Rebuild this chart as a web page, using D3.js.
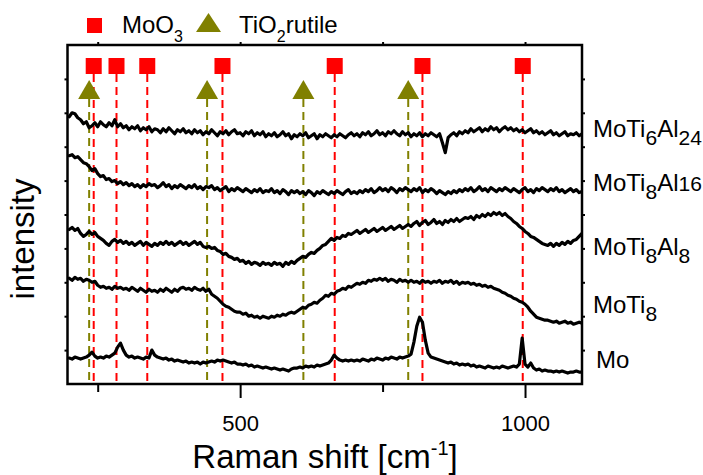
<!DOCTYPE html>
<html><head><meta charset="utf-8">
<script src="https://cdn.jsdelivr.net/npm/d3@7"></script>
<style>
body{margin:0;background:#fff}
svg{display:block}
text{font-family:"Liberation Sans",Arial,Helvetica,sans-serif;fill:#000}
</style>
</head><body>
<svg id="chart" width="703" height="475"></svg>
<script>
// ---------------- DATA ----------------
// Raman shift sampling grid (cm^-1), 200 .. 1100 in steps of 5
const shift = d3.range(200, 1101, 5);

// Offset intensities (arbitrary units), one value per shift sample
const moTi6Al24 = [
268,272,271,267,265,261,263,257,259,262,
258,263,260,258,262,259,265,258,261,257,
259,255,258,256,259,254,257,255,258,253,
256,255,252,256,253,257,254,251,255,253,
256,252,254,251,255,252,254,250,253,251,
255,252,249,253,251,254,250,253,255,251,
252,249,253,251,254,249,252,250,253,248,
251,249,252,248,250,253,249,251,246,250,
248,251,249,252,247,249,251,246,250,248,
251,249,247,250,248,251,249,247,250,252,
249,251,248,252,250,253,249,251,254,250,
252,249,253,251,254,251,249,253,250,252,
248,251,249,252,248,251,249,252,250,248,
251,242,232,247,250,252,249,253,251,254,
252,256,253,255,257,253,256,254,258,255,
257,253,256,258,255,257,254,256,253,255,
252,254,256,252,254,251,253,250,252,254,
250,252,249,251,253,249,251,250,252,249,
251];

const moTi8Al16 = [
229,230,227,228,225,222,221,218,214,216,
211,208,209,205,206,203,204,201,203,200,
202,199,201,198,200,197,200,198,201,199,
200,197,199,202,198,200,196,199,197,200,
198,196,199,197,200,196,198,195,198,197,
199,195,197,194,196,198,193,196,194,197,
195,193,196,194,192,195,193,196,192,194,
193,196,192,194,191,195,193,190,194,192,
194,191,193,190,194,192,189,193,191,194,
192,190,193,191,194,192,190,193,195,191,
193,191,194,192,195,193,196,192,194,197,
194,196,193,197,195,192,196,194,197,195,
193,196,194,197,192,195,193,196,194,191,
194,192,190,193,191,194,192,195,193,196,
194,197,193,195,198,194,196,193,197,195,
193,196,194,197,195,193,196,194,192,195,
197,193,195,192,196,194,197,195,193,196,
194,197,193,195,192,194,196,193,195,192,
193];

const moTi8Al8 = [
155,157,154,156,151,148,150,153,150,152,
148,146,144,141,139,143,145,142,144,141,
143,140,142,139,141,143,139,142,140,138,
141,139,142,140,143,140,142,139,141,143,
140,142,139,141,143,140,142,138,137,138,
136,137,134,133,130,131,128,127,125,126,
123,124,121,123,120,122,121,119,122,120,
121,119,122,120,121,118,122,120,123,121,
124,126,128,127,130,132,131,134,136,139,
140,143,146,144,147,146,149,148,151,150,
152,154,151,153,155,152,154,156,153,155,
157,154,156,158,155,157,159,156,158,160,
158,161,163,159,162,164,160,162,165,161,
163,160,164,162,165,163,166,163,165,167,
166,168,165,169,167,170,168,171,169,172,
170,172,169,171,168,166,163,161,158,156,
153,151,148,147,145,143,141,140,139,141,
138,141,139,142,140,143,141,144,145,148,
151];

const moTi8 = [
106,104,107,105,106,103,105,104,102,103,
99,97,98,96,97,95,98,96,97,95,
96,94,97,95,93,96,94,92,95,93,
94,92,95,93,96,94,92,95,93,96,
97,95,96,94,97,95,94,96,93,95,
90,88,86,83,80,78,77,75,73,72,
72,70,71,68,69,67,68,66,68,67,
66,68,67,69,68,70,69,71,72,71,
73,75,77,76,79,80,82,81,84,86,
89,88,91,90,93,94,96,95,98,97,
99,101,100,102,101,104,103,105,104,106,
104,106,103,105,104,102,105,103,104,102,
104,102,103,101,104,102,103,101,103,102,
104,101,103,102,104,101,103,100,102,101,
102,100,101,99,100,98,99,97,98,96,
95,94,92,91,89,88,86,85,83,82,
80,77,73,70,67,66,65,64,64,63,
62,63,61,62,63,61,62,60,61,62,
61];

const mo = [
26,25,27,26,25,26,27,29,32,28,
26,27,26,28,27,29,31,37,41,34,
29,27,28,26,27,26,25,27,26,34,
29,27,26,25,26,24,25,23,24,23,
22,23,21,22,21,22,20,22,21,22,
23,22,24,23,24,23,22,21,22,20,
20,19,20,18,19,17,18,17,16,17,
16,15,16,15,14,15,14,13,15,16,
16,17,16,18,17,18,17,19,18,19,
20,21,24,29,26,24,23,24,23,24,
23,24,23,25,24,23,25,24,26,25,
24,26,25,27,26,25,27,26,27,28,
30,42,58,67,62,44,31,27,26,25,
24,23,22,21,22,20,21,19,20,19,
20,18,19,17,18,17,16,18,17,16,
17,16,18,17,16,17,18,17,20,46,
20,17,21,16,14,15,13,14,13,13,
12,13,12,13,12,11,12,12,13,12,
12];

// Reference band positions (cm^-1)
const moO3Bands = [243, 283, 337, 469, 666, 820, 996];
const rutileBands = [235, 442, 611, 795];

// Axis ticks
const xMajorTicks = [500, 1000];
const xMinorTicks = [250, 750];
const yTicks = [34, 68, 102, 136, 170, 204, 238, 272, 306];

// Series labels (text parts: [text, isSubscript])
const seriesLabels = [
  [["MoTi",0],["6",1],["Al",0],["24",1]],
  [["MoTi",0],["8",1],["Al",0],["16",2]],
  [["MoTi",0],["8",1],["Al",0],["8",1]],
  [["MoTi",0],["8",1]],
  [["Mo",0]]
];
const seriesData = [moTi6Al24, moTi8Al16, moTi8Al8, moTi8, mo];

// ---------------- DRAW ----------------
const svg = d3.select("#chart");
const L = 67.5, R = 582, T = 45, B = 384;

const x = d3.scaleLinear().domain([197, 1100]).range([L, R]);
const y = d3.scaleLinear().domain([0, 340]).range([B, T]);

svg.append("clipPath").attr("id","clip")
  .append("rect").attr("x",L).attr("y",T).attr("width",R-L).attr("height",B-T);

// dashed band lines
const RED = "#ff0000", OLIVE = "#808000";
const gBands = svg.append("g").attr("clip-path","url(#clip)");
gBands.selectAll("line.mo").data(moO3Bands).join("line")
  .attr("x1", d => x(d)).attr("x2", d => x(d))
  .attr("y1", 74).attr("y2", B)
  .attr("stroke", RED).attr("stroke-width", 2).attr("stroke-dasharray","8,5");
gBands.selectAll("line.ti").data(rutileBands).join("line")
  .attr("x1", d => x(d)).attr("x2", d => x(d))
  .attr("y1", 99).attr("y2", B)
  .attr("stroke", OLIVE).attr("stroke-width", 2).attr("stroke-dasharray","8,5");

// spectra
const line = d3.line().x((d,i) => x(shift[i])).y(d => y(d));
svg.append("g").attr("clip-path","url(#clip)")
  .selectAll("path").data(seriesData).join("path")
  .attr("d", d => line(d))
  .attr("fill","none").attr("stroke","#000").attr("stroke-width",3.2)
  .attr("stroke-linejoin","round").attr("stroke-linecap","round");

// markers in plot
svg.append("g").selectAll("rect").data(moO3Bands).join("rect")
  .attr("x", d => x(d) - 8).attr("y", 58).attr("width", 16).attr("height", 16)
  .attr("fill", RED);
svg.append("g").selectAll("path").data(rutileBands).join("path")
  .attr("d", d => `M${x(d)},80 L${x(d)+11},99 L${x(d)-11},99 Z`)
  .attr("fill", OLIVE);

// frame
svg.append("rect").attr("x",L).attr("y",T).attr("width",R-L).attr("height",B-T)
  .attr("fill","none").attr("stroke","#000").attr("stroke-width",2.5);

// axes
function styleAxis(g){
  g.select(".domain").remove();
  g.selectAll(".tick line").attr("stroke","#000").attr("stroke-width",2);
}
svg.append("g").attr("transform",`translate(0,${B})`)
  .call(d3.axisBottom(x).tickValues(xMajorTicks).tickSize(14).tickPadding(17).tickFormat(d3.format("d")))
  .call(styleAxis)
  .call(g => g.selectAll("text").attr("font-size",22).attr("font-family","'Liberation Sans',Arial,sans-serif"));
svg.append("g").attr("transform",`translate(0,${B})`)
  .call(d3.axisBottom(x).tickValues(xMinorTicks).tickSize(8).tickFormat(""))
  .call(styleAxis);
svg.append("g").attr("transform",`translate(0,${T})`)
  .call(d3.axisTop(x).tickValues(xMinorTicks.concat(xMajorTicks)).tickSize(3).tickFormat(""))
  .call(styleAxis);
svg.append("g").attr("transform",`translate(${L},0)`)
  .call(d3.axisLeft(y).tickValues(yTicks).tickSize(3).tickFormat(""))
  .call(styleAxis);
svg.append("g").attr("transform",`translate(${R},0)`)
  .call(d3.axisRight(y).tickValues(yTicks).tickSize(3).tickFormat(""))
  .call(styleAxis);

// axis titles
const xt = svg.append("text").attr("x",325).attr("y",468)
  .attr("text-anchor","middle").attr("font-size",33);
xt.append("tspan").text("Raman shift [cm");
xt.append("tspan").attr("dy",-13).attr("font-size",20).text("-1");
xt.append("tspan").attr("dy",13).text("]");

svg.append("text").attr("transform","translate(34,239) rotate(-90)")
  .attr("text-anchor","middle").attr("font-size",33).text("intensity");

// series labels
const labelLayout = [[593,137],[593,191],[593,255],[593,313],[596,368]];
seriesLabels.forEach((parts, k) => {
  const t = svg.append("text").attr("x", labelLayout[k][0]).attr("y", labelLayout[k][1])
    .attr("font-size", 24);
  let shifted = 0;
  parts.forEach(([s, sub]) => {
    const want = sub === 1 ? 8 : 0;
    const ts = t.append("tspan").text(s).attr("dy", want - shifted);
    if (sub) ts.attr("font-size", 21);
    shifted = want;
  });
});

// legend
const lg = svg.append("g");
lg.append("rect").attr("x",87).attr("y",18).attr("width",15).attr("height",15).attr("fill",RED);
const t1 = lg.append("text").attr("x",122).attr("y",33).attr("font-size",24);
t1.append("tspan").text("MoO");
t1.append("tspan").attr("dy",9).attr("font-size",16).text("3");
lg.append("path").attr("d","M208.5,13 L221,32 L196,32 Z").attr("fill",OLIVE);
const t2 = lg.append("text").attr("x",239).attr("y",33).attr("font-size",24);
t2.append("tspan").text("TiO");
t2.append("tspan").attr("dy",9).attr("font-size",16).text("2");
t2.append("tspan").attr("dy",-9).text("rutile");
</script>
</body></html>
